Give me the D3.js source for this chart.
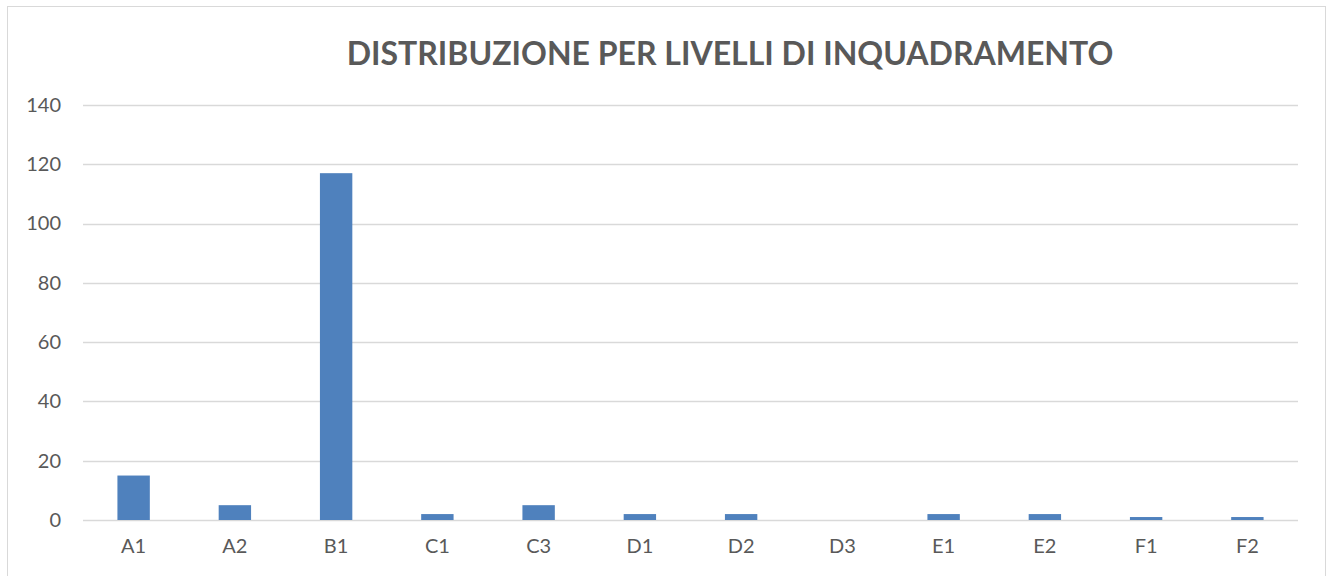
<!DOCTYPE html>
<html>
<head>
<meta charset="utf-8">
<script src="https://cdn.jsdelivr.net/npm/d3@7"></script>
<style>
  body { margin: 0; background: #fff; }
</style>
</head>
<body>
<div id="container"></div>
<script>
const width = 1330;
const height = 576;

const title = "DISTRIBUZIONE PER LIVELLI DI INQUADRAMENTO";
const categories = ["A1", "A2", "B1", "C1", "C3", "D1", "D2", "D3", "E1", "E2", "F1", "F2"];
const values = [15, 5, 117, 2, 5, 2, 2, 0, 2, 2, 1, 1];
const yTicks = [0, 20, 40, 60, 80, 100, 120, 140];

const margin = {left: 83, right: 32, top: 105, bottom: 56};
const font = "Lato, 'Open Sans', sans-serif";

const x = d3.scaleBand()
    .domain(categories)
    .range([margin.left, width - margin.right])
    .paddingInner(0.68)
    .paddingOuter(0.34);

const y = d3.scaleLinear()
    .domain([0, 140])
    .range([height - margin.bottom, margin.top]);

const svg = d3.select("div#container")
    .append("svg")
    .attr("width", width)
    .attr("height", height)
    .style("font-family", font);

// chart frame
svg.append("rect")
    .attr("x", 7.5)
    .attr("y", 6.5)
    .attr("width", 1318)
    .attr("height", 600)
    .attr("fill", "#fff")
    .attr("stroke", "#d9d9d9");

svg.append("text")
    .attr("x", 730)
    .attr("y", 65)
    .attr("text-anchor", "middle")
    .attr("font-size", 32)
    .attr("font-weight", "bold")
    .attr("fill", "#595959")
    .text(title);

// gridlines
svg.append("g")
    .selectAll("line")
    .data(yTicks)
    .join("line")
    .attr("x1", margin.left)
    .attr("x2", width - margin.right)
    .attr("y1", d => Math.round(y(d)) + 0.5)
    .attr("y2", d => Math.round(y(d)) + 0.5)
    .attr("stroke", "#d9d9d9")
    .attr("stroke-width", 1.5);

// y labels
const yAxis = svg.append("g")
    .attr("transform", `translate(${margin.left - 22},0)`)
    .call(d3.axisLeft(y).tickValues(yTicks).tickSize(0).tickPadding(0));
yAxis.select(".domain").remove();
yAxis.selectAll("text")
    .attr("font-family", font)
    .attr("font-size", 20)
    .attr("fill", "#595959");

// x labels
const xAxis = svg.append("g")
    .attr("transform", `translate(0,${height - margin.bottom})`)
    .call(d3.axisBottom(x).tickSize(0).tickPadding(19));
xAxis.select(".domain").remove();
xAxis.selectAll("text")
    .attr("font-family", font)
    .attr("font-size", 20)
    .attr("fill", "#595959");

// bars
svg.append("g")
    .selectAll("rect")
    .data(categories.map((c, i) => ({c, v: values[i]})).filter(d => d.v > 0))
    .join("rect")
    .attr("x", d => x(d.c))
    .attr("y", d => y(d.v))
    .attr("width", x.bandwidth())
    .attr("height", d => y(0) - y(d.v))
    .attr("fill", "#4f81bd");
</script>
</body>
</html>
